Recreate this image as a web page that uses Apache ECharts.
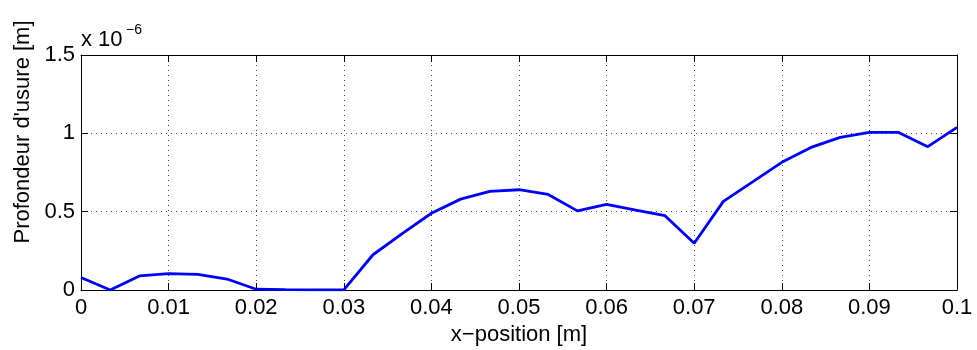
<!DOCTYPE html>
<html>
<head>
<meta charset="utf-8">
<script src="https://cdn.jsdelivr.net/npm/echarts@6/dist/echarts.min.js"></script>
<style>html,body{margin:0;padding:0;background:#fff}#c{width:977px;height:350px}</style>
</head>
<body>
<div id="c"></div>
<script>
// x positions [m]
const xPositions = [0, 0.003333, 0.006667, 0.01, 0.013333, 0.016667, 0.02, 0.023333, 0.026667, 0.03,
  0.033333, 0.036667, 0.04, 0.043333, 0.046667, 0.05, 0.053333, 0.056667, 0.06, 0.063333,
  0.066667, 0.07, 0.073333, 0.076667, 0.08, 0.083333, 0.086667, 0.09, 0.093333, 0.096667, 0.1];
// wear depth [x 1e-6 m]
const wearDepth = [0.08, 0.0, 0.09, 0.105, 0.10, 0.07, 0.005, 0.002, 0.001, 0.001,
  0.225, 0.36, 0.49, 0.58, 0.63, 0.64, 0.61, 0.505, 0.547, 0.51,
  0.474, 0.298, 0.566, 0.69, 0.815, 0.91, 0.974, 1.006, 1.006, 0.915, 1.038];
const xTicks = [0, 0.01, 0.02, 0.03, 0.04, 0.05, 0.06, 0.07, 0.08, 0.09, 0.1];
const yTicks = [0, 0.5, 1, 1.5];

const FONT = "'Liberation Sans', Arial, Helvetica, sans-serif";
const chart = echarts.init(document.getElementById('c'), null, {renderer: 'canvas'});
const gridLine = {show: true, lineStyle: {color: '#444', width: 1, type: [1, 4]}};
const axLine = {show: true, onZero: false, lineStyle: {color: '#000', width: 1}};
const tick = {show: true, inside: true, length: 7, lineStyle: {color: '#000', width: 1}};

chart.setOption({
  animation: false,
  backgroundColor: '#fff',
  textStyle: {fontFamily: FONT},
  grid: {left: 81, right: 20, top: 55, bottom: 60, containLabel: false, outerBoundsMode: 'none'},
  xAxis: [{
    type: 'value', min: xTicks[0], max: xTicks[xTicks.length - 1], interval: 0.01,
    position: 'bottom',
    name: 'x\u2212position [m]', nameLocation: 'middle', nameGap: 32,
    nameTextStyle: {color: '#000', fontSize: 22, fontFamily: FONT},
    axisLine: axLine, axisTick: tick, splitLine: gridLine,
    axisLabel: {color: '#000', fontSize: 22, fontFamily: FONT, margin: 7,
      formatter: v => String(+v.toFixed(2))}
  }, {
    type: 'value', min: xTicks[0], max: xTicks[xTicks.length - 1], interval: 0.01,
    position: 'top', axisLine: axLine, axisTick: tick, splitLine: {show: false},
    axisLabel: {show: false}
  }],
  yAxis: [{
    type: 'value', min: yTicks[0], max: yTicks[yTicks.length - 1], interval: 0.5,
    position: 'left',
    axisLine: axLine, axisTick: tick, splitLine: gridLine,
    axisLabel: {color: '#000', fontSize: 22, fontFamily: FONT, margin: 6,
      formatter: v => String(+v.toFixed(1))}
  }, {
    type: 'value', min: yTicks[0], max: yTicks[yTicks.length - 1], interval: 0.5,
    position: 'right', axisLine: axLine, axisTick: tick, splitLine: {show: false},
    axisLabel: {show: false}
  }],
  graphic: [
    {type: 'text', x: 23, y: 132, rotation: Math.PI / 2,
      style: {text: "Profondeur d'usure [m]", font: '22px ' + FONT, fill: '#000',
        align: 'center', verticalAlign: 'middle'}},
    {type: 'text', x: 81, y: 40,
      style: {text: 'x 10', font: '22px ' + FONT, fill: '#000', align: 'left', verticalAlign: 'middle'}},
    {type: 'text', x: 126, y: 30,
      style: {text: '\u22126', font: '14px ' + FONT, fill: '#000', align: 'left', verticalAlign: 'middle'}}
  ],
  series: [{
    type: 'line', xAxisIndex: 0, yAxisIndex: 0,
    data: xPositions.map((x, i) => [x, wearDepth[i]]),
    showSymbol: false, symbol: 'none',
    lineStyle: {color: '#0000ff', width: 2.8}, itemStyle: {color: '#0000ff'}
  }]
});
</script>
</body>
</html>
